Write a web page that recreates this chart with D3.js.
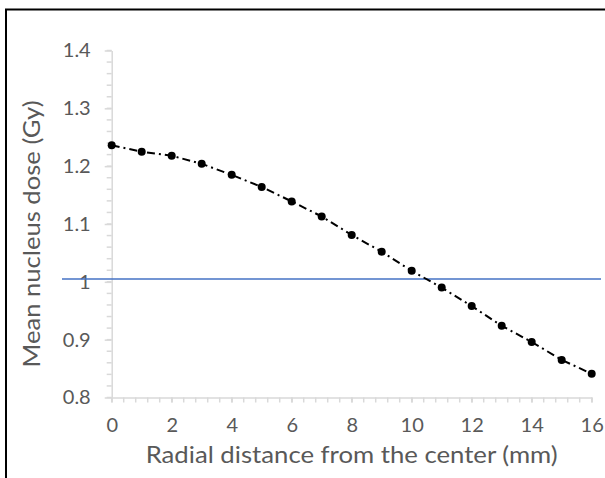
<!DOCTYPE html>
<html>
<head>
<meta charset="utf-8">
<script src="https://cdn.jsdelivr.net/npm/d3@7"></script>
<style>
  body { margin: 0; background: #fff; }
  text { font-family: Lato, "Open Sans", sans-serif; fill: #595959; }
</style>
</head>
<body>
<div class="chart"></div>
<script>
// distance from the center (mm)
var distances = [0, 1, 2, 3, 4, 5, 6, 7, 8, 9, 10, 11, 12, 13, 14, 15, 16];
// mean nucleus dose (Gy)
var doses = [1.236, 1.225, 1.218, 1.204, 1.185, 1.164, 1.139, 1.113, 1.081,
             1.052, 1.019, 0.990, 0.958, 0.924, 0.896, 0.865, 0.841];
var refLevel = 1.005;
var xTicks = [0, 2, 4, 6, 8, 10, 12, 14, 16];
var yTicks = [0.8, 0.9, 1, 1.1, 1.2, 1.3, 1.4];

var chartOptions = {
  width: 605,
  height: 478,
  left: 111.7,
  right: 591.7,
  top: 50.5,
  bottom: 397.5
}

var svg = d3.select('.chart').append('svg')
            .attr('width', chartOptions.width)
            .attr('height', chartOptions.height);

// frame of the original figure (only top and left edges show)
svg.append('rect')
   .attr('x', 6).attr('y', 9.5)
   .attr('width', 700).attr('height', 600)
   .attr('fill', 'none')
   .attr('stroke', '#000')
   .attr('stroke-width', 2);

var x = d3.scaleLinear().domain([0, 16]).range([chartOptions.left, chartOptions.right]);
var y = d3.scaleLinear().domain([0.8, 1.4]).range([chartOptions.bottom, chartOptions.top]);

var axisColor = '#d9d9d9';

// minor ticks (Excel style, major/5)
var xMinor = d3.range(0, 16.001, 0.4);
var yMinor = d3.range(0.8, 1.4001, 0.02);

svg.append('g').selectAll('line')
   .data(xMinor)
   .enter().append('line')
     .attr('x1', function(d){ return x(d); })
     .attr('x2', function(d){ return x(d); })
     .attr('y1', chartOptions.bottom)
     .attr('y2', chartOptions.bottom + 5)
     .attr('stroke', axisColor).attr('stroke-width', 1.5);

svg.append('g').selectAll('line')
   .data(yMinor)
   .enter().append('line')
     .attr('x1', chartOptions.left - 5)
     .attr('x2', chartOptions.left)
     .attr('y1', function(d){ return y(d); })
     .attr('y2', function(d){ return y(d); })
     .attr('stroke', axisColor).attr('stroke-width', 1.5);

// x axis
var xAxis = svg.append('g')
   .attr('transform', 'translate(0,' + chartOptions.bottom + ')')
   .call(d3.axisBottom(x).tickValues(xTicks).tickSize(5).tickSizeOuter(0).tickPadding(15));

// y axis
var yAxis = svg.append('g')
   .attr('transform', 'translate(' + chartOptions.left + ',0)')
   .call(d3.axisLeft(y).tickValues(yTicks).tickSize(7).tickSizeOuter(0)
           .tickPadding(14).tickFormat(function(d){ return d3.format('')(+d.toFixed(1)); }));

[xAxis, yAxis].forEach(function(ax){
  ax.select('.domain').attr('stroke', axisColor).attr('stroke-width', 1.5);
  ax.selectAll('.tick line').attr('stroke', axisColor).attr('stroke-width', 1.5);
  ax.selectAll('.tick text')
    .attr('fill', '#595959')
    .style('font-size', '20px')
    .style('font-family', 'Lato, "Open Sans", sans-serif');
});

// axis titles
svg.append('text')
   .attr('x', (chartOptions.left + chartOptions.right) / 2)
   .attr('y', 463)
   .attr('text-anchor', 'middle')
   .attr('textLength', 412)
   .attr('lengthAdjust', 'spacingAndGlyphs')
   .style('font-size', '24px')
   .text('Radial distance from the center (mm)');

svg.append('text')
   .attr('transform', 'translate(40,234) rotate(-90)')
   .attr('text-anchor', 'middle')
   .attr('textLength', 267)
   .attr('lengthAdjust', 'spacingAndGlyphs')
   .style('font-size', '24px')
   .text('Mean nucleus dose (Gy)');

// reference line
svg.append('line')
   .attr('x1', 62).attr('x2', 601)
   .attr('y1', y(refLevel)).attr('y2', y(refLevel))
   .attr('stroke', '#4472c4').attr('stroke-width', 1.5);

// dose curve
var points = distances.map(function(d, i){ return { x: d, y: doses[i] }; });

var line = d3.line()
             .x(function(p){ return x(p.x); })
             .y(function(p){ return y(p.y); });

svg.append('path')
   .datum(points)
   .attr('d', line)
   .attr('fill', 'none')
   .attr('stroke', '#000')
   .attr('stroke-width', 2)
   .attr('stroke-dasharray', '8,4,2,4');

svg.selectAll('circle.dot')
   .data(points)
   .enter().append('circle')
     .attr('class', 'dot')
     .attr('cx', function(p){ return x(p.x); })
     .attr('cy', function(p){ return y(p.y); })
     .attr('r', 4)
     .attr('fill', '#000');
</script>
</body>
</html>
